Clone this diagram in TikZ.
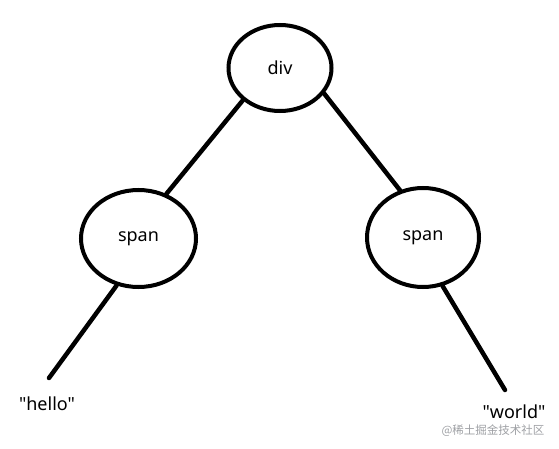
\documentclass[tikz,border=0pt]{standalone}
\usepackage{fontspec}
\setmainfont{Noto Sans}[Ligatures=TeXOff]
\newfontfamily\cjkfont{Noto Sans CJK SC}
\usetikzlibrary{shapes.geometric}
\definecolor{markgray}{RGB}{158,160,164}
\tikzset{
  bubble/.style={draw, ellipse, line width=4pt, inner sep=0pt, font=\fontsize{18}{22}\selectfont},
  link/.style={line width=4.5pt, line cap=round},
  leaf/.style={inner sep=0pt, font=\fontsize{18}{22}\selectfont},
}
\begin{document}
\begin{tikzpicture}[x=1pt, y=-1pt]
    \useasboundingbox (0,0) rectangle (559,449);
    \node[bubble, minimum width=103pt, minimum height=86pt] (div) at (280,68) {div};
    \node[bubble, minimum width=115pt, minimum height=97pt] (ls) at (138.5,238.5) {span};
    \node[bubble, minimum width=112pt, minimum height=99pt] (rs) at (423,237.5) {span};
    \coordinate (hl) at (49,378);
    \coordinate (wd) at (505,390);
    \node[leaf] (hello) at (47,404) {"hello"};
    \node[leaf] (world) at (514,412) {"world"};
    \node[inner sep=0pt, text=markgray, font=\cjkfont\fontsize{11.5}{13}\selectfont] (mark) at (493,431) {@稀土掘金技术社区};
    \draw[link] (div.221) -- (ls.58);
    \draw[link] (div.-30) -- (rs.116);
    \draw[link] (ls.245) -- (hl);
    \draw[link] (rs.-68) -- (wd);
\end{tikzpicture}
\end{document}
